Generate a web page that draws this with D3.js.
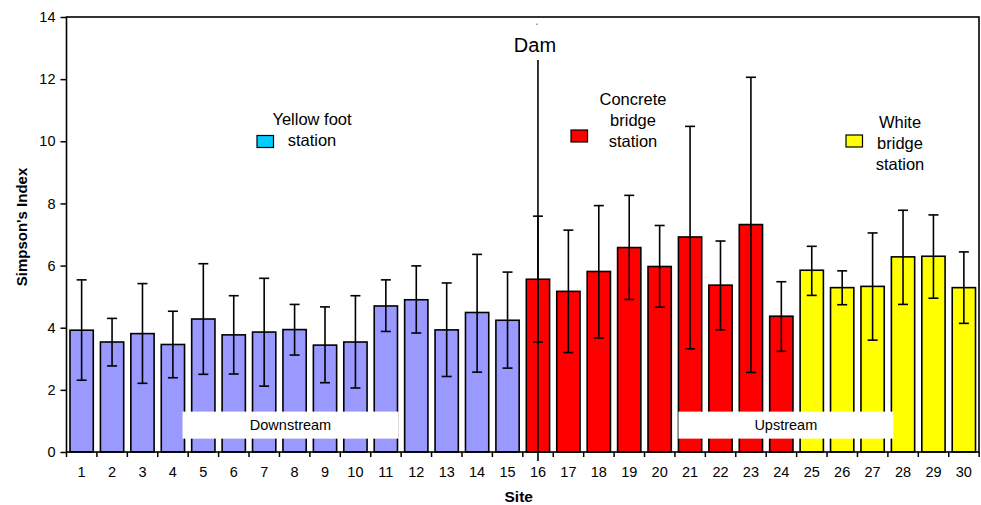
<!DOCTYPE html>
<html>
<head>
<meta charset="utf-8">
<script src="https://cdn.jsdelivr.net/npm/d3@7"></script>
<style>
  body { margin: 0; background: #fff; }
  svg { font-family: "Liberation Sans", Arial, sans-serif; }
</style>
</head>
<body>
<div id="chart"></div>
<script>
// Simpson's index per site, with error bar ends
const sites = d3.range(1, 31);
const means = [3.92, 3.54, 3.81, 3.46, 4.28, 3.77, 3.86, 3.94, 3.44, 3.54,
               4.70, 4.90, 3.93, 4.49, 4.24, 5.56, 5.17, 5.81, 6.58, 5.97,
               6.92, 5.37, 7.32, 4.37, 5.85, 5.29, 5.33, 6.28, 6.30, 5.29];
const errHigh = [5.54, 4.30, 5.42, 4.53, 6.06, 5.03, 5.59, 4.75, 4.67, 5.03,
                 5.54, 5.99, 5.44, 6.36, 5.79, 7.59, 7.14, 7.93, 8.26, 7.29,
                 10.48, 6.79, 12.06, 5.48, 6.62, 5.83, 7.05, 7.78, 7.63, 6.44];
const errLow = [2.31, 2.77, 2.21, 2.39, 2.50, 2.51, 2.12, 3.12, 2.23, 2.06,
                3.88, 3.83, 2.43, 2.57, 2.70, 3.54, 3.20, 3.67, 4.91, 4.66,
                3.32, 3.93, 2.56, 3.24, 5.04, 4.74, 3.60, 4.75, 4.95, 4.14];
const stationOf = [0,0,0,0,0,0,0,0,0,0,0,0,0,0,0,
                   1,1,1,1,1,1,1,1,1,
                   2,2,2,2,2,2];
const stationColors = ['#9999ff', '#ff0000', '#ffff00'];
const yTicks = [0, 2, 4, 6, 8, 10, 12, 14];

let width = 981;
let height = 505;
let margin = { top: 17, right: 2, bottom: 53, left: 66.5 };

let svg = d3.select('#chart').append('svg')
  .attr('width', width)
  .attr('height', height);

let x = d3.scaleBand()
  .domain(sites)
  .range([margin.left, width - margin.right])
  .paddingInner(0.235)
  .paddingOuter(0.115);

let y = d3.scaleLinear()
  .domain([0, 14])
  .range([height - margin.bottom, margin.top]);

let step = x.step();
let bw = x.bandwidth();

// bars
svg.append('g').selectAll('rect')
  .data(sites)
  .join('rect')
  .attr('x', d => x(d))
  .attr('y', (d, i) => y(means[i]))
  .attr('width', bw)
  .attr('height', (d, i) => y(0) - y(means[i]))
  .attr('fill', (d, i) => stationColors[stationOf[i]])
  .attr('stroke', '#000')
  .attr('stroke-width', 1.6);

// error bars
let eb = svg.append('g').attr('stroke', '#000').attr('stroke-width', 1.6);
sites.forEach((s, i) => {
  let cx = x(s) + bw / 2;
  eb.append('line').attr('x1', cx).attr('x2', cx)
    .attr('y1', y(errLow[i])).attr('y2', y(errHigh[i]));
  [errLow[i], errHigh[i]].forEach(v => {
    eb.append('line').attr('x1', cx - 5).attr('x2', cx + 5)
      .attr('y1', y(v)).attr('y2', y(v));
  });
});

// downstream / upstream labels
let regions = [
  { label: 'Downstream', x0: x(4) + bw - 2, x1: x(11) + bw + 1 },
  { label: 'Upstream', x0: x(21), x1: x(27) + bw + 9 }
];
regions.forEach(r => {
  svg.append('rect')
    .attr('x', r.x0).attr('y', y(1.3))
    .attr('width', r.x1 - r.x0).attr('height', y(0.43) - y(1.3))
    .attr('fill', '#fff');
  svg.append('text')
    .attr('x', (r.x0 + r.x1) / 2).attr('y', y(0.87) + 5)
    .attr('text-anchor', 'middle')
    .attr('font-size', 14.5)
    .text(r.label);
});

// dam line
let damX = x(16) + bw / 2;
svg.append('line')
  .attr('x1', damX).attr('x2', damX)
  .attr('y1', 60).attr('y2', y(0) + 9)
  .attr('stroke', '#000').attr('stroke-width', 1.6);
svg.append('line')
  .attr('x1', damX - 1).attr('x2', damX - 1)
  .attr('y1', 23.5).attr('y2', 25)
  .attr('stroke', '#555').attr('stroke-width', 1);
svg.append('text')
  .attr('x', damX - 3).attr('y', 52)
  .attr('text-anchor', 'middle')
  .attr('font-size', 20)
  .text('Dam');

// plot frame
svg.append('rect')
  .attr('x', margin.left).attr('y', margin.top)
  .attr('width', width - margin.right - margin.left)
  .attr('height', y(0) - margin.top)
  .attr('fill', 'none')
  .attr('stroke', '#000')
  .attr('stroke-width', 1.6);

// y axis
let yAxis = svg.append('g')
  .attr('transform', `translate(${margin.left},0)`)
  .call(d3.axisLeft(y).tickValues(yTicks).tickSize(6).tickPadding(5));
yAxis.select('.domain').remove();
yAxis.selectAll('line').attr('stroke-width', 1.5);
yAxis.selectAll('text').attr('font-size', 14.5).attr('fill', '#000')
  .attr('font-family', '"Liberation Sans", Arial, sans-serif');

// x axis: ticks sit between categories
let xAxis = svg.append('g')
  .attr('transform', `translate(0,${y(0)})`)
  .call(d3.axisBottom(x).tickSize(0).tickPadding(15));
xAxis.select('.domain').remove();
xAxis.selectAll('text').attr('font-size', 14.5).attr('fill', '#000')
  .attr('font-family', '"Liberation Sans", Arial, sans-serif');
xAxis.selectAll('.sep')
  .data(d3.range(0, 31))
  .join('line')
  .attr('x1', i => margin.left + i * step)
  .attr('x2', i => margin.left + i * step)
  .attr('y1', 0).attr('y2', 5)
  .attr('stroke', '#000').attr('stroke-width', 1.5);

// axis titles
svg.append('text')
  .attr('x', (margin.left + width - margin.right) / 2 - 4)
  .attr('y', 502)
  .attr('text-anchor', 'middle')
  .attr('font-size', 15.5).attr('font-weight', 'bold')
  .text('Site');
svg.append('text')
  .attr('transform', 'translate(27,227) rotate(-90)')
  .attr('text-anchor', 'middle')
  .attr('font-size', 15).attr('font-weight', 'bold')
  .text("Simpson's Index");

// station legends
let legends = [
  { lines: ['Yellow foot', 'station'], color: '#00ccff', sx: 257, sy: 135.5, tx: 312, ty: [119, 140] },
  { lines: ['Concrete', 'bridge', 'station'], color: '#ff0000', sx: 571, sy: 130, tx: 633, ty: [99, 120, 141] },
  { lines: ['White', 'bridge', 'station'], color: '#ffff00', sx: 846, sy: 135, tx: 900, ty: [122, 143, 164] }
];
legends.forEach(l => {
  svg.append('rect')
    .attr('x', l.sx).attr('y', l.sy)
    .attr('width', 16.5).attr('height', 12)
    .attr('fill', l.color)
    .attr('stroke', '#000').attr('stroke-width', 1.2);
  l.lines.forEach((t, k) => {
    svg.append('text')
      .attr('x', l.tx).attr('y', l.ty[k] + 6)
      .attr('text-anchor', 'middle')
      .attr('font-size', 16.5)
      .text(t);
  });
});
</script>
</body>
</html>
